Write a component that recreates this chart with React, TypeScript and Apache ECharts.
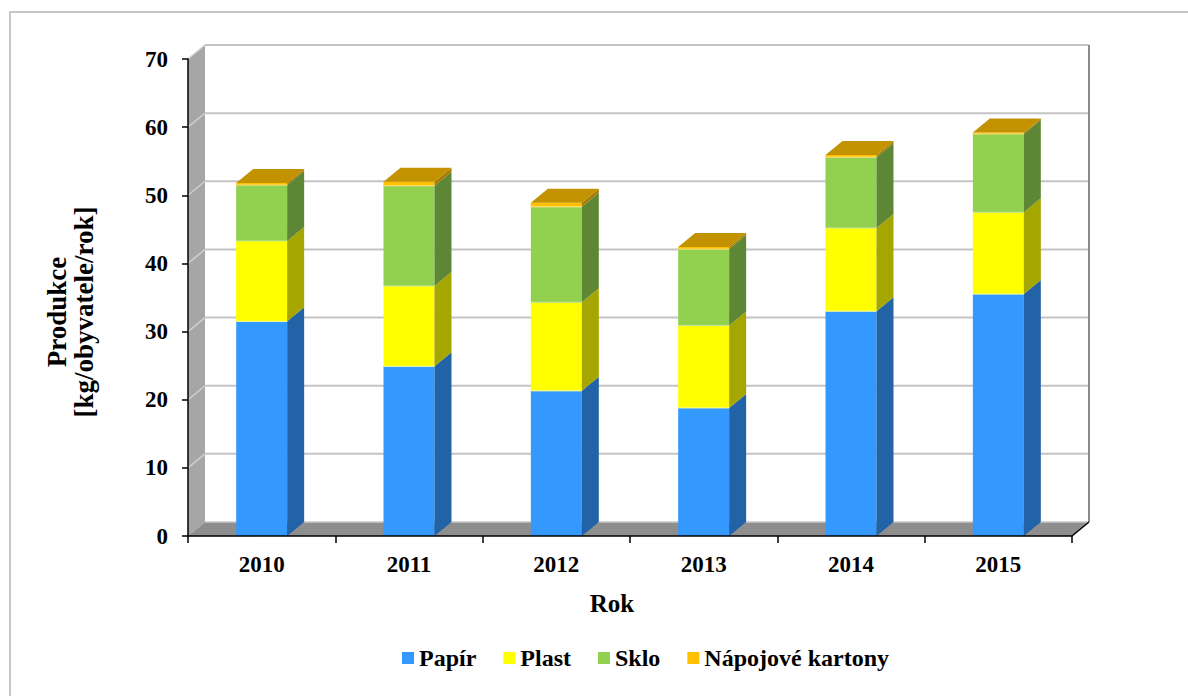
import React, { useEffect, useRef } from "react";
import * as echarts from "echarts";

const years = ["2010", "2011", "2012", "2013", "2014", "2015"];
const seriesNames = ["Papír", "Plast", "Sklo", "Nápojové kartony"];
const papir = [31.5, 24.9, 21.3, 18.8, 33.0, 35.5];
const plast = [11.8, 11.8, 13.0, 12.1, 12.2, 12.0];
const sklo = [8.2, 14.7, 14.0, 11.2, 10.4, 11.5];
const kartony = [0.3, 0.6, 0.6, 0.3, 0.3, 0.2];
const yTicks = [0, 10, 20, 30, 40, 50, 60, 70];

const frontColors = ["#3399ff", "#ffff00", "#92d050", "#ffc000"];
const sideColors = ["#2163a6", "#a6a600", "#5e8735", "#a67d00"];
const edgeColors = ["#7fbfff", "#ffff99", "#c2e6a0", "#ffe080"];
const topColor = "#c29200";

const DX = 17;
const DY = -14;
const FONT = "'Liberation Serif', 'Times New Roman', serif";

export default function App() {
  const ref = useRef<HTMLDivElement>(null);

  useEffect(() => {
    if (!ref.current) return;
    const chart = echarts.init(ref.current, null, { renderer: "svg" });
    const all = [papir, plast, sklo, kartony];
    const bases = all.map((_, si) =>
      years.map((_, j) => {
        let s = 0;
        for (let k = 0; k < si; k++) s += all[k][j];
        return s;
      })
    );

    const barSeries = all.map((vals, si) => ({
      type: "custom",
      name: seriesNames[si],
      z: 3,
      itemStyle: { color: frontColors[si] },
      encode: { x: 0, y: [1, 2] },
      data: years.map((_, j) => [j, bases[si][j], vals[j]]),
      renderItem: (params: any, api: any) => {
        const xi = api.value(0);
        const b = api.value(1);
        const v = api.value(2);
        const pb = api.coord([xi, b]);
        const pt = api.coord([xi, b + v]);
        const bw = api.size([1, 0])[0] * 0.346;
        const xl = pb[0] - bw / 2;
        const xr = pb[0] + bw / 2;
        const children: any[] = [
          {
            type: "rect",
            shape: { x: xl, y: pt[1], width: bw, height: pb[1] - pt[1] },
            style: { fill: frontColors[si] },
          },
          {
            type: "polygon",
            shape: {
              points: [
                [xr, pb[1]],
                [xr, pt[1]],
                [xr + DX, pt[1] + DY],
                [xr + DX, pb[1] + DY],
              ],
            },
            style: { fill: sideColors[si] },
          },
        ];
        if (si > 0) {
          children.push({
            type: "line",
            shape: { x1: xl, y1: pb[1], x2: xr, y2: pb[1] },
            style: { stroke: edgeColors[si], lineWidth: 1 },
          });
        }
        if (si === all.length - 1) {
          children.push({
            type: "polygon",
            shape: {
              points: [
                [xl, pt[1]],
                [xr, pt[1]],
                [xr + DX, pt[1] + DY],
                [xl + DX, pt[1] + DY],
              ],
            },
            style: { fill: topColor },
          });
        }
        return { type: "group", children };
      },
    }));

    const wallSeries = {
      type: "custom",
      name: "walls",
      z: 1,
      silent: true,
      data: [[0, 0]],
      encode: { x: 0, y: 1 },
      renderItem: (params: any, api: any) => {
        const cs = params.coordSys;
        const x0 = cs.x;
        const y0 = cs.y;
        const w = cs.width;
        const h = cs.height;
        const bottom = y0 + h;
        const right = x0 + w;
        const children: any[] = [
          {
            type: "rect",
            shape: { x: x0 + DX, y: y0 + DY, width: w, height: h },
            style: { fill: "#ffffff" },
          },
          {
            type: "polygon",
            shape: {
              points: [
                [x0, bottom],
                [x0, y0],
                [x0 + DX, y0 + DY],
                [x0 + DX, bottom + DY],
              ],
            },
            style: { fill: "#a6a6a6" },
          },
          {
            type: "polygon",
            shape: {
              points: [
                [x0, bottom],
                [right, bottom],
                [right + DX, bottom + DY],
                [x0 + DX, bottom + DY],
              ],
            },
            style: { fill: "#8e8e8e" },
          },
        ];
        yTicks.forEach((t) => {
          const yf = api.coord([0, t])[1];
          if (t > 0) {
            children.push({
              type: "line",
              shape: { x1: x0 + DX, y1: yf + DY, x2: right + DX, y2: yf + DY },
              style: { stroke: "#c4c4c4", lineWidth: 2 },
            });
            children.push({
              type: "line",
              shape: { x1: x0, y1: yf, x2: x0 + DX, y2: yf + DY },
              style: { stroke: "#cfcfcf", lineWidth: 1.5 },
            });
          } else {
            children.push({
              type: "line",
              shape: { x1: x0 + DX, y1: yf + DY, x2: right + DX, y2: yf + DY },
              style: { stroke: "#c8c8c8", lineWidth: 1.5 },
            });
          }
        });
        children.push({
          type: "line",
          shape: { x1: right + DX, y1: y0 + DY, x2: right + DX, y2: bottom + DY },
          style: { stroke: "#8c8c8c", lineWidth: 2 },
        });
        children.push({
          type: "line",
          shape: { x1: right, y1: bottom, x2: right + DX, y2: bottom + DY },
          style: { stroke: "#000000", lineWidth: 1.5 },
        });
        return { type: "group", children };
      },
    };

    chart.setOption({
      animation: false,
      backgroundColor: "#ffffff",
      textStyle: { fontFamily: FONT },
      grid: { left: 188, right: 116, top: 59, bottom: 160 },
      xAxis: {
        type: "category",
        data: years,
        z: 10,
        axisLine: { show: true, lineStyle: { color: "#000", width: 1.5 } },
        axisTick: { show: true, length: 7, interval: 0, lineStyle: { color: "#000", width: 1.5 } },
        axisLabel: {
          margin: 17,
          color: "#000",
          fontSize: 23,
          fontWeight: "bold",
          fontFamily: FONT,
        },
        splitLine: { show: false },
      },
      yAxis: {
        type: "value",
        min: 0,
        max: 70,
        interval: 10,
        z: 10,
        axisLine: { show: true, lineStyle: { color: "#000", width: 1.5 } },
        axisTick: { show: true, length: 6, lineStyle: { color: "#000", width: 1.5 } },
        axisLabel: {
          margin: 20,
          color: "#000",
          fontSize: 23,
          fontWeight: "bold",
          fontFamily: FONT,
        },
        splitLine: { show: false },
      },
      legend: {
        data: seriesNames,
        left: 397,
        top: 641,
        icon: "rect",
        itemWidth: 12,
        itemHeight: 12,
        itemGap: 27,
        textStyle: {
          color: "#000",
          fontSize: 24,
          fontWeight: "bold",
          fontFamily: FONT,
        },
      },
      graphic: [
        {
          type: "rect",
          silent: true,
          shape: { x: 10, y: 12, width: 1200, height: 720 },
          style: { fill: "none", stroke: "#c6c6c6", lineWidth: 2 },
          z: 0,
        },
        {
          type: "text",
          x: 70,
          y: 312,
          rotation: Math.PI / 2,
          style: {
            text: "Produkce\n[kg/obyvatele/rok]",
            align: "center",
            verticalAlign: "middle",
            fontSize: 27,
            lineHeight: 27,
            fontWeight: "bold",
            fontFamily: FONT,
            fill: "#000",
          },
        },
        {
          type: "text",
          x: 612,
          y: 603,
          style: {
            text: "Rok",
            align: "center",
            verticalAlign: "middle",
            fontSize: 25,
            fontWeight: "bold",
            fontFamily: FONT,
            fill: "#000",
          },
        },
      ],
      series: [wallSeries, ...barSeries],
    });
    return () => chart.dispose();
  }, []);

  return (
    <div
      ref={ref}
      style={{ position: "absolute", left: 0, top: 0, width: 1188, height: 696 }}
    />
  );
}
